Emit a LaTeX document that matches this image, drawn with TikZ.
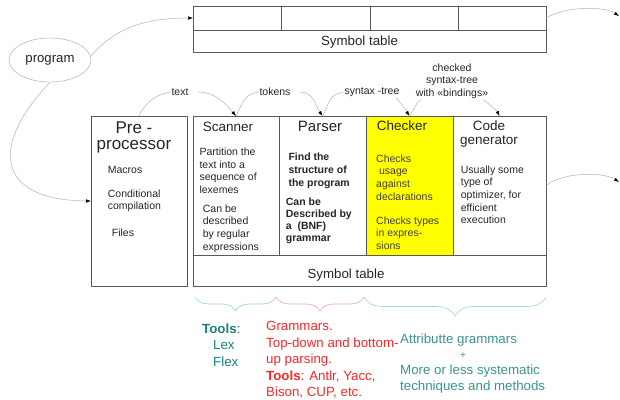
\documentclass[tikz,border=0pt]{standalone}
\usepackage{fontspec}
\setmainfont{Liberation Sans}
\usetikzlibrary{positioning,arrows.meta,shapes.geometric,decorations.pathreplacing,calc}
\definecolor{tools_teal}{RGB}{26,128,126}
\definecolor{tools_red}{RGB}{250,40,40}
\definecolor{brace_teal}{RGB}{160,212,206}
\definecolor{brace_pink}{RGB}{244,164,164}
\definecolor{checker_yellow}{RGB}{255,255,0}
\tikzset{
    % boxes of the compiler pipeline
    phase_cell/.style={draw=black!65, line width=0.8pt, anchor=north west, inner sep=0pt, outer sep=0pt},
    phase_title/.style={anchor=base, align=center, inner sep=0pt, font=\fontsize{13.5}{13.7}\selectfont},
    phase_body/.style={anchor=base west, align=left, inner sep=0pt, font=\fontsize{10.5}{12.6}\selectfont},
    symtab_text/.style={anchor=base, inner sep=0pt, font=\fontsize{13.3}{16}\selectfont},
    % labels on the flow between the phases
    flow_label/.style={inner sep=1pt, align=center, font=\fontsize{10.5}{12.5}\selectfont},
    flow_line/.style={draw=black!30, line width=0.5pt},
    flow_arrow/.style={flow_line, -{Latex[length=5pt, width=3.5pt, color=black]}},
    % braces and the tools below them
    tool_brace/.style={decorate, decoration={brace, mirror, amplitude=14pt}, line width=0.6pt},
    tool_text/.style={anchor=base west, align=left, inner sep=0pt, font=\fontsize{13.3}{16.5}\selectfont},
}

\begin{document}
\begin{tikzpicture}[x=1pt, y=-1pt, every node/.style={text=black!85}]
    \useasboundingbox (0,0) rectangle (620,399);
    \fill[white] (0,0) rectangle (620,399);

    % Symbol table at the top
    \node[phase_cell, minimum width=88pt, minimum height=24pt] (symtop_a) at (193,6) {};
    \node[phase_cell, minimum width=89pt, minimum height=24pt] (symtop_b) at (symtop_a.north east) {};
    \node[phase_cell, minimum width=88pt, minimum height=24pt] (symtop_c) at (symtop_b.north east) {};
    \node[phase_cell, minimum width=88pt, minimum height=24pt] (symtop_d) at (symtop_c.north east) {};
    \node[phase_cell, minimum width=353pt, minimum height=22pt] (symtop) at (symtop_a.south west) {};
    \node[symtab_text] (symtop_txt) at (359.5,45.3) {Symbol table};

    % Source program
    \node[draw=black!35, ellipse, minimum width=82pt, minimum height=44pt, inner sep=0pt,
          font=\fontsize{13.2}{15}\selectfont] (program) at (50,60) {program};

    % Row of phases
    \node[phase_cell, minimum width=96pt, minimum height=170pt] (pre) at (91,116) {};
    \node[phase_cell, minimum width=86pt, minimum height=139pt] (scan) at (193,116) {};
    \node[phase_cell, minimum width=87pt, minimum height=139pt] (parse) at (scan.north east) {};
    \node[phase_cell, minimum width=87pt, minimum height=139pt, fill=checker_yellow] (check) at (parse.north east) {};
    \node[phase_cell, minimum width=93pt, minimum height=139pt] (gen) at (check.north east) {};
    \node[phase_cell, minimum width=353pt, minimum height=31pt] (symbot) at (scan.south west) {};
    \node[symtab_text] (symbot_txt) at (346,278.3) {Symbol table};

    % Titles (base = last line)
    \node[phase_title, font=\fontsize{17}{15.7}\selectfont] (pre_title) at (134,149) {Pre -\\processor};
    \node[phase_title] (scan_title) at (228,131) {Scanner};
    \node[phase_title, font=\fontsize{15}{15}\selectfont] (parse_title) at (320,131) {Parser};
    \node[phase_title] (check_title) at (402,130.7) {Checker};
    \node[phase_title] (gen_title) at (489,144.4) {Code\\generator};

    % Texts in the phases
    \node[phase_body] (pre_macros) at (107.7,173.3) {Macros};
    \node[phase_body, font=\fontsize{10.5}{12}\selectfont] (pre_cond) at (107.7,209.3) {Conditional\\compilation};
    \node[phase_body] (pre_files) at (111.7,236.7) {Files};
    \node[phase_body] (scan_part) at (199.3,193.5) {Partition the\\text into a\\sequence of\\lexemes};
    \node[phase_body] (scan_desc) at (202.7,250.1) {Can be\\described\\by regular\\expressions};
    \node[phase_body, font=\bfseries\fontsize{10.5}{13}\selectfont] (parse_find) at (288.3,186) {Find the\\structure of\\the program};
    \node[phase_body, font=\bfseries\fontsize{10.5}{12}\selectfont] (parse_bnf) at (285.7,241.7) {Can be\\Described by\\a~ (BNF)\\grammar};
    \node[phase_body, text=black!85!yellow] (check_use) at (376,200.1) {Checks\\\ usage\\against\\declarations};
    \node[phase_body, text=black!85!yellow] (check_type) at (376,249.5) {Checks types\\in expres-\\sions};
    \node[phase_body] (gen_opt) at (460.7,223.7) {Usually some\\type of\\optimizer, for\\efficient\\execution};

    % Labels on the flow
    \node[flow_label] (lbl_text) at (180,92) {text};
    \node[flow_label] (lbl_tokens) at (275,92) {tokens};
    \node[flow_label] (lbl_syntax) at (372,92) {syntax -tree};
    \node[flow_label] (lbl_checked) at (452,81) {checked\\syntax-tree\\with «bindings»};

    % Flow between the phases
    \draw[flow_line] (pre.north) .. controls +(8,-16) and +(-14,3) .. (lbl_text.west);
    \draw[flow_arrow] ([xshift=8pt]lbl_text.east) .. controls +(18,0) and +(-10,-12) .. (scan.north);
    \draw[flow_line] (scan.north) .. controls +(8,-16) and +(-14,3) .. (lbl_tokens.west);
    \draw[flow_arrow] ([xshift=8pt]lbl_tokens.east) .. controls +(14,0) and +(-8,-12) .. (parse.north);
    \draw[flow_line] (parse.north) .. controls +(8,-16) and +(-14,3) .. (lbl_syntax.west);
    \draw[flow_arrow] ([xshift=-5pt]lbl_syntax.south east) .. controls +(6,6) and +(-4,-6) .. (check.north);
    \draw[flow_line] (check.north) .. controls +(5,-6) and +(-5,3) .. ([xshift=6pt]lbl_checked.south west);
    \draw[flow_arrow] ([xshift=-6pt]lbl_checked.south east) .. controls +(6,5) and +(-3,-6) .. (gen.north);

    % Program into the compiler, and out to the right
    \coordinate (out_top) at (619,16);
    \coordinate (out_mid) at (619,182);
    \draw[flow_arrow] (program.5) .. controls +(25,-30) and +(-45,0) .. (symtop_a.west);
    \draw[flow_arrow] (program.south) .. controls +(-60,63) and +(-96,-1) .. (pre.west);
    \draw[flow_arrow] (symtop_d.east) .. controls +(20,-12) and +(-15,-10) .. (out_top);
    \draw[flow_arrow] (gen.east) .. controls +(18,-14) and +(-15,-10) .. (out_mid);

    % Braces
    \draw[tool_brace, brace_teal] (195,297) -- (276,297);
    \draw[tool_brace, brace_pink] (276,297) -- (364,297);
    \draw[tool_brace, brace_teal, decoration={amplitude=19pt}] (364,297) -- (546,297);

    % Tools (base = last line)
    \node[tool_text, text=tools_teal] (tools_scan) at (202,366) {\textbf{Tools}:\\\hspace*{11pt}Lex\\\hspace*{11pt}Flex};
    \node[tool_text, text=tools_red] (tools_parse) at (266,396.5) {Grammars.\\Top-down and bottom-\\up parsing.\\\textbf{Tools}: Antlr, Yacc,\\Bison, CUP, etc.};
    \node[tool_text, text=tools_teal!85!white] (tools_check) at (400,343) {Attributte grammars};
    \node[inner sep=0pt, text=tools_teal!85!white, font=\fontsize{10}{12}\selectfont] (tools_plus) at (463,356) {+};
    \node[tool_text, text=tools_teal!85!white] (tools_more) at (400,390.5) {More or less systematic\\techniques and methods};
\end{tikzpicture}
\end{document}
